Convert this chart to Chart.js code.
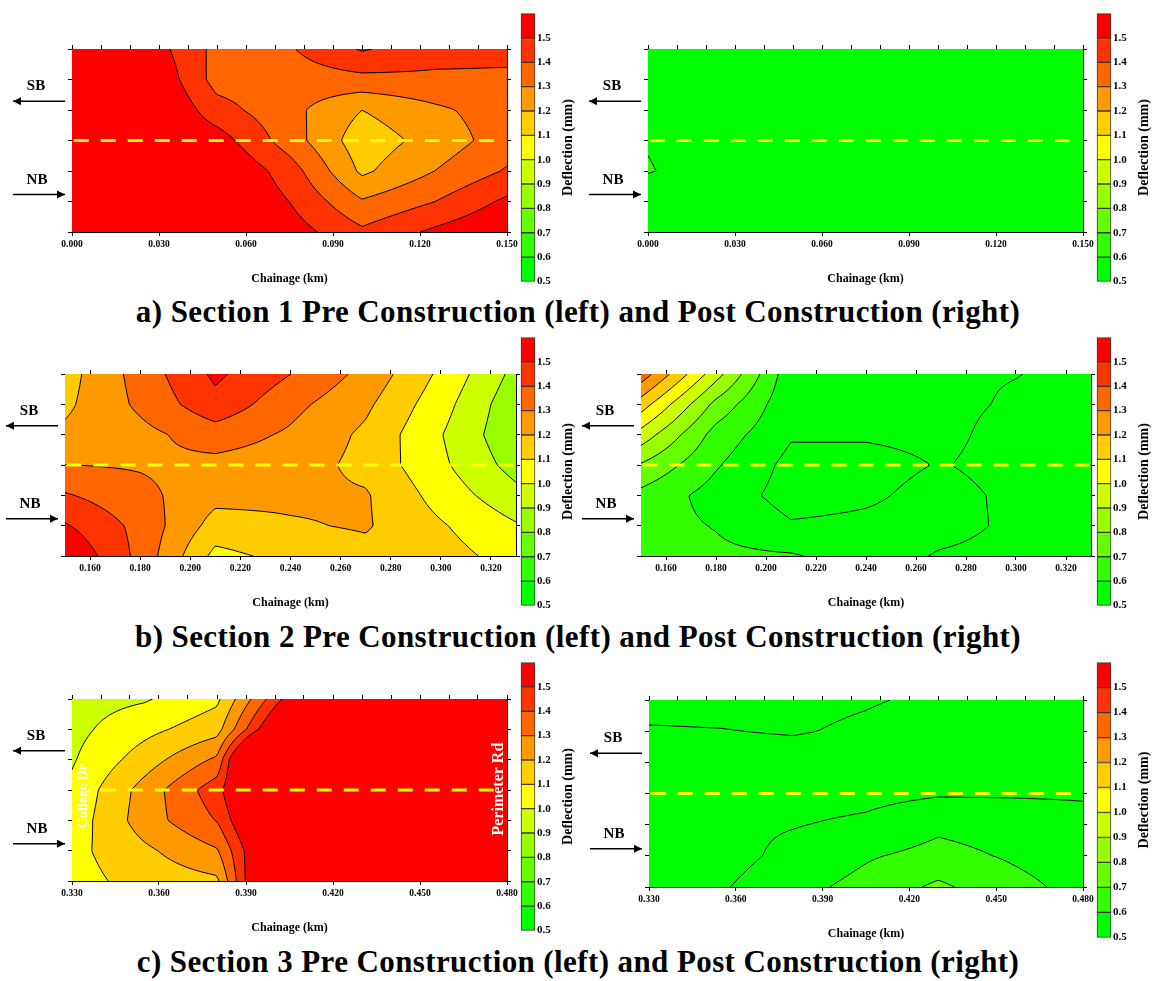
<!DOCTYPE html>
<html lang="en">
<head>
    <meta charset="UTF-8">
    <title>Deflection contours - Sections 1 to 3</title>
    <script src="https://cdn.jsdelivr.net/npm/chart.js@4.4.1/dist/chart.umd.min.js"></script>
    <style>
        body {
            margin: 0;
            width: 1156px;
            height: 981px;
            position: relative;
            overflow: hidden;
            background: #fff;
            font-family: 'Liberation Serif', 'Times New Roman', serif;
        }

        canvas {
            position: absolute;
        }

        .caption {
            position: absolute;
            left: 0;
            width: 1156px;
            text-align: center;
            font-weight: bold;
            font-size: 31px;
            line-height: 31px;
            letter-spacing: 0.4px;
            color: #000;
            white-space: nowrap;
        }
    </style>
</head>
<body>

    <div class="caption" style="top:296px">a) Section 1 Pre Construction (left) and Post Construction (right)</div>
    <div class="caption" style="top:621px">b) Section 2 Pre Construction (left) and Post Construction (right)</div>
    <div class="caption" style="top:946px">c) Section 3 Pre Construction (left) and Post Construction (right)</div>

    <canvas id="s1pre"></canvas>
    <canvas id="s1post"></canvas>
    <canvas id="s2pre"></canvas>
    <canvas id="s2post"></canvas>
    <canvas id="s3pre"></canvas>
    <canvas id="s3post"></canvas>
    <canvas id="s1preBar"></canvas>
    <canvas id="s1postBar"></canvas>
    <canvas id="s2preBar"></canvas>
    <canvas id="s2postBar"></canvas>
    <canvas id="s3preBar"></canvas>
    <canvas id="s3postBar"></canvas>

    <script>
        // deflection classes (mm) and their colours, lowest band first
        const levels = [0.5, 0.6, 0.7, 0.8, 0.9, 1.0, 1.1, 1.2, 1.3, 1.4, 1.5];
        const bandColours = ['#00ff00', '#33ff00', '#66ff00', '#99ff00', '#ccff00', '#ffff00',
                             '#ffcc00', '#ff9900', '#ff6600', '#ff3300', '#ff0000'];
        const colourbarTicks = [0.5, 0.6, 0.7, 0.8, 0.9, 1.0, 1.1, 1.2, 1.3, 1.4, 1.5];

        // lateral position of each grid row (top row first), centre line at 3
        const lanes = [6, 5, 4, 3, 2, 1, 0];
        const centreLane = 3;

        // chainage (km) of each grid column
        const chainage1 = [0.000, 0.025, 0.050, 0.075, 0.100, 0.125, 0.150];
        const chainage2 = [0.150, 0.180, 0.210, 0.240, 0.270, 0.300, 0.330];
        const chainage3 = [0.330, 0.355, 0.380, 0.405, 0.430, 0.455, 0.480];

        // axis tick labels and top tick marks
        const ticks1 = [0.000, 0.030, 0.060, 0.090, 0.120, 0.150];
        const ticks2 = [0.160, 0.180, 0.200, 0.220, 0.240, 0.260, 0.280, 0.300, 0.320];
        const ticks3 = [0.330, 0.360, 0.390, 0.420, 0.450, 0.480];
        const minor1 = [0.00, 0.01, 0.02, 0.03, 0.04, 0.05, 0.06, 0.07, 0.08, 0.09, 0.10, 0.11, 0.12, 0.13, 0.14, 0.15];
        const minor3 = [0.33, 0.34, 0.35, 0.36, 0.37, 0.38, 0.39, 0.40, 0.41, 0.42, 0.43, 0.44, 0.45, 0.46, 0.47, 0.48];
        const laneTicks = [0, 1, 2, 3, 4, 5, 6];

        // deflection (mm), rows follow lanes, columns follow chainage
        const pre1 = [
            [1.62, 1.57, 1.37, 1.39, 1.51, 1.44, 1.43],
            [1.64, 1.63, 1.36, 1.35, 1.37, 1.38, 1.38],
            [1.65, 1.66, 1.44, 1.33, 1.20, 1.28, 1.35],
            [1.65, 1.62, 1.55, 1.35, 1.14, 1.24, 1.35],
            [1.65, 1.64, 1.62, 1.45, 1.18, 1.30, 1.41],
            [1.65, 1.65, 1.63, 1.499, 1.31, 1.399, 1.52],
            [1.62, 1.62, 1.60, 1.55, 1.42, 1.52, 1.60]
        ];
        const post1 = [
            [0.56, 0.55, 0.55, 0.54, 0.55, 0.55, 0.56],
            [0.57, 0.55, 0.54, 0.55, 0.55, 0.54, 0.55],
            [0.58, 0.56, 0.55, 0.55, 0.54, 0.55, 0.55],
            [0.595, 0.56, 0.55, 0.54, 0.55, 0.55, 0.54],
            [0.605, 0.56, 0.55, 0.55, 0.55, 0.54, 0.55],
            [0.54, 0.55, 0.55, 0.55, 0.54, 0.55, 0.55],
            [0.55, 0.54, 0.55, 0.55, 0.55, 0.55, 0.56]
        ];
        const pre2 = [
            [1.16, 1.34, 1.52, 1.401, 1.27, 1.08, 0.87],
            [1.18, 1.32, 1.47, 1.33, 1.22, 1.04, 0.83],
            [1.22, 1.27, 1.35, 1.285, 1.18, 1.005, 0.82],
            [1.301, 1.29, 1.27, 1.25, 1.17, 1.02, 0.86],
            [1.41, 1.33, 1.23, 1.22, 1.21, 1.06, 0.93],
            [1.51, 1.37, 1.16, 1.19, 1.21, 1.11, 1.01],
            [1.60, 1.37, 1.07, 1.13, 1.17, 1.14, 1.06]
        ];
        const post2 = [
            [1.36, 0.94, 0.53, 0.52, 0.51, 0.502, 0.48],
            [1.15, 0.77, 0.52, 0.52, 0.52, 0.49, 0.46],
            [0.96, 0.66, 0.51, 0.51, 0.52, 0.47, 0.45],
            [0.79, 0.61, 0.47, 0.47, 0.505, 0.47, 0.45],
            [0.67, 0.56, 0.46, 0.485, 0.53, 0.48, 0.45],
            [0.64, 0.595, 0.51, 0.52, 0.535, 0.48, 0.46],
            [0.62, 0.62, 0.61, 0.55, 0.49, 0.47, 0.46]
        ];
        const pre3 = [
            [0.96, 0.99, 1.08, 1.55, 1.62, 1.64, 1.65],
            [0.97, 1.07, 1.16, 1.75, 1.63, 1.64, 1.65],
            [0.99, 1.15, 1.32, 2.40, 1.64, 1.65, 1.65],
            [1.02, 1.24, 1.46, 2.00, 1.64, 1.65, 1.65],
            [1.04, 1.25, 1.405, 1.90, 1.64, 1.65, 1.65],
            [1.07, 1.18, 1.29, 1.85, 1.64, 1.65, 1.65],
            [1.06, 1.14, 1.18, 2.00, 1.64, 1.65, 1.65]
        ];
        const post3 = [
            [0.52, 0.52, 0.515, 0.505, 0.49, 0.48, 0.48],
            [0.495, 0.498, 0.505, 0.49, 0.47, 0.47, 0.47],
            [0.47, 0.47, 0.47, 0.46, 0.46, 0.46, 0.47],
            [0.47, 0.46, 0.46, 0.47, 0.49, 0.49, 0.49],
            [0.47, 0.48, 0.495, 0.52, 0.58, 0.56, 0.53],
            [0.47, 0.46, 0.53, 0.59, 0.63, 0.59, 0.55],
            [0.47, 0.49, 0.57, 0.63, 0.72, 0.63, 0.57]
        ];

        const serif = "'Liberation Serif', 'Times New Roman', serif";
        Chart.defaults.color = '#000';

        const bandRGB = bandColours.map(c => [1, 3, 5].map(i => parseInt(c.substr(i, 2), 16)));

        function bandOf(v) {
            let n = 0;
            while (n < levels.length && v >= levels[n]) n++;
            return Math.min(Math.max(n - 1, 0), bandColours.length - 1);
        }

        // bilinear value between the grid nodes
        function deflectionAt(xs, grid, x, y) {
            let i = 0;
            while (i < xs.length - 2 && x > xs[i + 1]) i++;
            let j = 0;
            while (j < lanes.length - 2 && y < lanes[j + 1]) j++;
            const tx = Math.min(Math.max((x - xs[i]) / (xs[i + 1] - xs[i]), 0), 1);
            const ty = Math.min(Math.max((y - lanes[j]) / (lanes[j + 1] - lanes[j]), 0), 1);
            return grid[j][i] * (1 - tx) * (1 - ty) + grid[j][i + 1] * tx * (1 - ty) +
                   grid[j + 1][i] * (1 - tx) * ty + grid[j + 1][i + 1] * tx * ty;
        }

        const contourPlugin = {
            id: 'contour',
            beforeDatasetsDraw(chart, args, opts) {
                const ctx = chart.ctx, area = chart.chartArea;
                const xScale = chart.scales.x, yScale = chart.scales.y;
                const left = Math.round(area.left), top = Math.round(area.top);
                const w = Math.round(area.right) - left, h = Math.round(area.bottom) - top;
                const valueAt = (px, py) => deflectionAt(opts.chainage, opts.grid,
                    xScale.getValueForPixel(px), yScale.getValueForPixel(py));

                // filled bands
                const off = document.createElement('canvas');
                off.width = w;
                off.height = h;
                const octx = off.getContext('2d');
                const img = octx.createImageData(w, h);
                for (let r = 0; r < h; r++) {
                    for (let c = 0; c < w; c++) {
                        const rgb = bandRGB[bandOf(valueAt(left + c + 0.5, top + r + 0.5))];
                        const k = (r * w + c) * 4;
                        img.data[k] = rgb[0];
                        img.data[k + 1] = rgb[1];
                        img.data[k + 2] = rgb[2];
                        img.data[k + 3] = 255;
                    }
                }
                octx.putImageData(img, 0, 0);
                ctx.drawImage(off, left, top);

                // contour lines, marching squares on a 2px lattice
                const step = 2;
                const cols = Math.ceil(w / step) + 1, rows = Math.ceil(h / step) + 1;
                const gx = [], gy = [], v = [];
                for (let c = 0; c < cols; c++) gx.push(Math.min(left + c * step, left + w));
                for (let r = 0; r < rows; r++) gy.push(Math.min(top + r * step, top + h));
                for (let r = 0; r < rows; r++) {
                    for (let c = 0; c < cols; c++) v.push(valueAt(gx[c], gy[r]));
                }

                ctx.save();
                ctx.beginPath();
                ctx.rect(left, top, w, h);
                ctx.clip();
                ctx.strokeStyle = '#000';
                ctx.lineWidth = 1;
                levels.forEach(lv => {
                    const cut = (va, vb, x1, y1, x2, y2) => {
                        const t = (lv - va) / (vb - va);
                        return [x1 + t * (x2 - x1), y1 + t * (y2 - y1)];
                    };
                    ctx.beginPath();
                    for (let r = 0; r < rows - 1; r++) {
                        for (let c = 0; c < cols - 1; c++) {
                            const a = v[r * cols + c], b = v[r * cols + c + 1];
                            const d = v[(r + 1) * cols + c], e = v[(r + 1) * cols + c + 1];
                            const ia = a >= lv, ib = b >= lv, id = d >= lv, ie = e >= lv;
                            if (ia === ib && ib === ie && ie === id) continue;
                            const x0 = gx[c], x1 = gx[c + 1], y0 = gy[r], y1 = gy[r + 1];
                            const pTop = ia !== ib ? cut(a, b, x0, y0, x1, y0) : null;
                            const pRight = ib !== ie ? cut(b, e, x1, y0, x1, y1) : null;
                            const pBottom = id !== ie ? cut(d, e, x0, y1, x1, y1) : null;
                            const pLeft = ia !== id ? cut(a, d, x0, y0, x0, y1) : null;
                            let segs;
                            if (pTop && pRight && pBottom && pLeft) {
                                const centreHigh = (a + b + d + e) / 4 >= lv;
                                segs = centreHigh === ia ? [[pTop, pRight], [pBottom, pLeft]]
                                                         : [[pTop, pLeft], [pRight, pBottom]];
                            } else {
                                const p = [pTop, pRight, pBottom, pLeft].filter(Boolean);
                                segs = [[p[0], p[1]]];
                            }
                            segs.forEach(s => {
                                ctx.moveTo(s[0][0], s[0][1]);
                                ctx.lineTo(s[1][0], s[1][1]);
                            });
                        }
                    }
                    ctx.stroke();
                });
                ctx.restore();
            }
        };

        // direction arrows and road names
        const notesPlugin = {
            id: 'notes',
            afterDraw(chart, args, opts) {
                const ctx = chart.ctx, area = chart.chartArea;
                const yScale = chart.scales.y, xScale = chart.scales.x;
                ctx.save();
                ctx.fillStyle = '#000';
                ctx.strokeStyle = '#000';
                ctx.font = 'bold 15px ' + serif;
                ctx.textAlign = 'center';
                ctx.textBaseline = 'middle';
                ctx.fillText('SB', area.left - 36, yScale.getPixelForValue(4.77));
                ctx.fillText('NB', area.left - 35, yScale.getPixelForValue(1.71));

                const arrow = (y, pointsLeft) => {
                    const x0 = area.left - 59, x1 = area.left - 7;
                    ctx.lineWidth = 1.5;
                    ctx.beginPath();
                    ctx.moveTo(x0, y);
                    ctx.lineTo(x1, y);
                    ctx.stroke();
                    const tip = pointsLeft ? x0 : x1, dir = pointsLeft ? 1 : -1;
                    ctx.beginPath();
                    ctx.moveTo(tip, y);
                    ctx.lineTo(tip + dir * 8, y - 4);
                    ctx.lineTo(tip + dir * 8, y + 4);
                    ctx.closePath();
                    ctx.fill();
                };
                arrow(yScale.getPixelForValue(4.29), true);
                arrow(yScale.getPixelForValue(1.23), false);

                (opts.roads || []).forEach(rd => {
                    ctx.save();
                    ctx.translate(xScale.getPixelForValue(rd.x), yScale.getPixelForValue(rd.y));
                    ctx.rotate(-Math.PI / 2);
                    ctx.fillStyle = '#fff';
                    ctx.font = 'bold ' + rd.size + 'px ' + serif;
                    ctx.fillText(rd.text, 0, 0);
                    ctx.restore();
                });
                ctx.restore();
            }
        };

        const barTitlePlugin = {
            id: 'barTitle',
            afterDraw(chart) {
                const ctx = chart.ctx, area = chart.chartArea;
                ctx.save();
                ctx.translate(area.right + 33, (area.top + area.bottom) / 2);
                ctx.rotate(-Math.PI / 2);
                ctx.font = 'bold 14px ' + serif;
                ctx.fillStyle = '#000';
                ctx.textAlign = 'center';
                ctx.textBaseline = 'middle';
                ctx.fillText('Deflection (mm)', 0, 0);
                ctx.restore();
            }
        };

        function place(canvas, x, y, w, h) {
            canvas.width = w;
            canvas.height = h;
            canvas.style.left = x + 'px';
            canvas.style.top = y + 'px';
            canvas.style.width = w + 'px';
            canvas.style.height = h + 'px';
        }

        function drawPanel(p) {
            const [px0, py0, px1, py1] = p.area;
            const cx = px0 - 65, cy = py0 - 10;
            const cw = px1 - cx + 14, ch = py1 - cy + 60;
            const canvas = document.getElementById(p.id);
            place(canvas, cx, cy, cw, ch);

            const xMin = p.chainage[0], xMax = p.chainage[p.chainage.length - 1];
            const edge = { color: '#000', width: 1 };
            const marks = { drawOnChartArea: false, drawTicks: true, tickLength: 4, color: '#000', lineWidth: 1 };

            new Chart(canvas, {
                type: 'scatter',
                data: {
                    datasets: [{
                        data: [{ x: xMin + 0.0006, y: centreLane }, { x: xMax - 0.0005, y: centreLane }],
                        showLine: true,
                        borderColor: '#ffff00',
                        borderWidth: 3,
                        borderDash: [15, 12],
                        borderCapStyle: 'butt',
                        pointRadius: 0
                    }]
                },
                options: {
                    responsive: false,
                    animation: false,
                    events: [],
                    layout: { padding: 0 },
                    plugins: {
                        legend: { display: false },
                        tooltip: { enabled: false },
                        contour: { chainage: p.chainage, grid: p.grid },
                        notes: { roads: p.roads }
                    },
                    scales: {
                        x: {
                            type: 'linear', position: 'bottom', min: xMin, max: xMax, z: 1,
                            afterBuildTicks: s => { s.ticks = p.ticks.map(v => ({ value: v })); },
                            afterFit: s => { s.height = ch - (py1 - cy); },
                            ticks: {
                                autoSkip: false, maxRotation: 0, padding: 3,
                                callback: v => v.toFixed(3),
                                font: { family: serif, size: 9.5, weight: 'bold' }
                            },
                            grid: marks,
                            border: edge,
                            title: {
                                display: true, text: 'Chainage (km)',
                                font: { family: serif, size: 12, weight: 'bold' },
                                padding: { top: 0, bottom: 60 - 47 - 7.2 }
                            }
                        },
                        xTop: {
                            type: 'linear', position: 'top', min: xMin, max: xMax, z: 1,
                            afterBuildTicks: s => { s.ticks = p.minor.map(v => ({ value: v })); },
                            afterFit: s => { s.height = py0 - cy; },
                            ticks: { display: false },
                            grid: marks,
                            border: edge
                        },
                        y: {
                            type: 'linear', position: 'left', min: 0, max: 6, z: 1,
                            afterBuildTicks: s => { s.ticks = laneTicks.map(v => ({ value: v })); },
                            afterFit: s => { s.width = px0 - cx; },
                            ticks: { display: false },
                            grid: marks,
                            border: edge
                        },
                        yRight: {
                            type: 'linear', position: 'right', min: 0, max: 6, z: 1,
                            afterBuildTicks: s => { s.ticks = laneTicks.map(v => ({ value: v })); },
                            afterFit: s => { s.width = cx + cw - px1; },
                            ticks: { display: false },
                            grid: marks,
                            border: edge
                        }
                    }
                },
                plugins: [contourPlugin, notesPlugin]
            });

            // colour scale beside the panel
            const [bx, by0, by1] = p.bar;
            const bar = document.getElementById(p.id + 'Bar');
            place(bar, bx - 6, by0 - 6, 70, by1 - by0 + 14);
            new Chart(bar, {
                type: 'bar',
                data: {
                    labels: [''],
                    datasets: bandColours.map((c, i) => ({
                        data: [[levels[i], levels[i] + 0.1]],
                        backgroundColor: c,
                        borderColor: '#3a3a3a',
                        borderWidth: 1,
                        borderSkipped: false,
                        barPercentage: 1,
                        categoryPercentage: 1,
                        grouped: false,
                        clip: false
                    }))
                },
                options: {
                    responsive: false,
                    animation: false,
                    events: [],
                    layout: { padding: { left: 6, top: 6, bottom: 8, right: 0 } },
                    plugins: { legend: { display: false }, tooltip: { enabled: false } },
                    scales: {
                        x: { display: false },
                        y: {
                            position: 'right', min: 0.5, max: 1.6,
                            afterBuildTicks: s => { s.ticks = colourbarTicks.map(v => ({ value: v })); },
                            afterFit: s => { s.width = 50; },
                            ticks: {
                                autoSkip: false, padding: 2,
                                callback: v => v.toFixed(1),
                                font: { family: serif, size: 11, weight: 'bold' }
                            },
                            grid: { display: false, drawTicks: false },
                            border: { display: false }
                        }
                    }
                },
                plugins: [barTitlePlugin]
            });
        }

        const panels = [
            { id: 's1pre',  area: [72, 49, 507, 232],   chainage: chainage1, grid: pre1,  ticks: ticks1, minor: minor1, bar: [521, 11, 282] },
            { id: 's1post', area: [648, 49, 1083, 232], chainage: chainage1, grid: post1, ticks: ticks1, minor: minor1, bar: [1097, 11, 282] },
            { id: 's2pre',  area: [65, 374, 516, 556],  chainage: chainage2, grid: pre2,  ticks: ticks2, minor: ticks2, bar: [521, 335, 606] },
            { id: 's2post', area: [641, 374, 1091, 556], chainage: chainage2, grid: post2, ticks: ticks2, minor: ticks2, bar: [1097, 335, 606] },
            { id: 's3pre',  area: [72, 699, 507, 881],  chainage: chainage3, grid: pre3,  ticks: ticks3, minor: minor3, bar: [521, 660, 931],
              roads: [{ text: 'College Dr', x: 0.3341, y: 2.8, size: 14 }, { text: 'Perimeter Rd', x: 0.4772, y: 3.03, size: 16 }] },
            { id: 's3post', area: [649, 700, 1083, 887], chainage: chainage3, grid: post3, ticks: ticks3, minor: minor3, bar: [1097, 660, 938] }
        ];

        panels.forEach(drawPanel);
    </script>
</body>
</html>
